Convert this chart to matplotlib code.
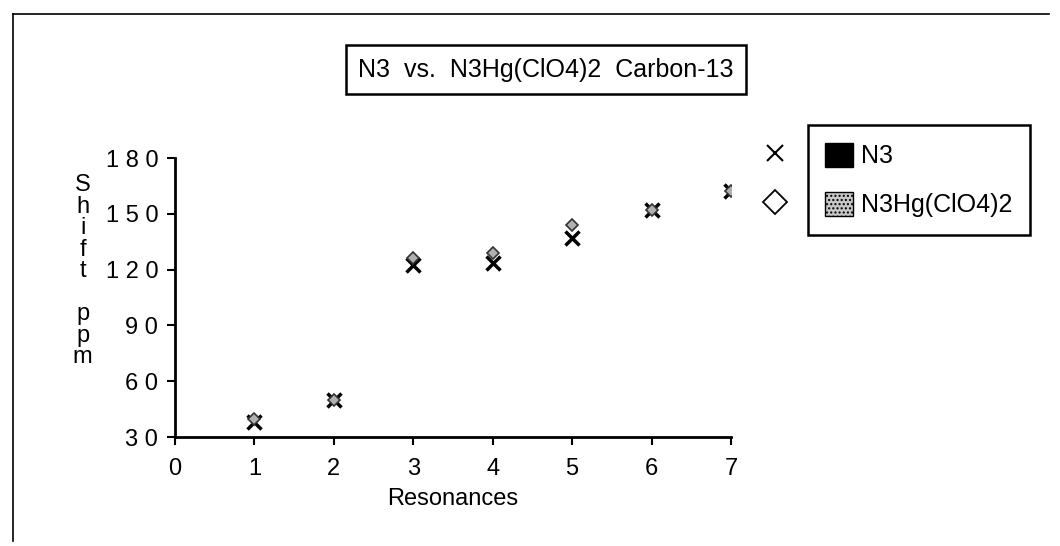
import matplotlib.pyplot as plt
from matplotlib.patches import Patch
from matplotlib.lines import Line2D

# chart data
resonances = [1, 2, 3, 4, 5, 6, 7]
n3_shift = [38, 50, 122.5, 123.5, 137, 152, 162]
n3hg_shift = [39.5, 50, 126.5, 129, 144, 152, 162]
series_names = ['N3', 'N3Hg(ClO4)2']
title = 'N3  vs.  N3Hg(ClO4)2  Carbon-13'
y_ticks = [30, 60, 90, 120, 150, 180]
x_ticks = [0, 1, 2, 3, 4, 5, 6, 7]

plt.rcParams['font.family'] = ['Liberation Sans', 'DejaVu Sans']
fs = 17

fig = plt.figure(figsize=(10.6, 5.46), dpi=100)
ax = fig.add_axes([0.165, 0.1996, 0.5246, 0.511])

ax.plot(resonances, n3_shift, linestyle='none', marker='x', color='black',
        markersize=10, markeredgewidth=2.5)
ax.plot(resonances, n3hg_shift, linestyle='none', marker='D', markerfacecolor='#b0b0b0',
        markeredgecolor='#333333', markersize=6, markeredgewidth=1.2)

ax.set_xlim(0, 7)
ax.set_ylim(30, 180)
ax.set_xticks(x_ticks)
ax.set_yticks(y_ticks)
ax.set_yticklabels([' '.join(str(v)) for v in y_ticks])
ax.tick_params(axis='both', direction='out', length=6, width=1.5, labelsize=fs)
ax.tick_params(axis='x', pad=9)
ax.tick_params(axis='y', pad=6)
for s in ['top', 'right']:
    ax.spines[s].set_visible(False)
for s in ['left', 'bottom']:
    ax.spines[s].set_linewidth(2)

ax.set_xlabel('Resonances', fontsize=fs, labelpad=6)
fig.text(0.078, 0.503, 'S\nh\ni\nf\nt\n\np\np\nm', fontsize=fs, ha='center', va='center',
         linespacing=0.97)

# title in a box
fig.text(0.515, 0.872, title, fontsize=18, ha='center', va='center',
         bbox=dict(boxstyle='square,pad=0.5', facecolor='white', edgecolor='black', linewidth=1.8))

# legend with filled swatches
handles = [Patch(facecolor='black', edgecolor='black'),
           Patch(facecolor='#c8c8c8', edgecolor='black', hatch='....')]
leg = fig.legend(handles, series_names, loc='upper left', bbox_to_anchor=(0.762, 0.771),
                 borderaxespad=0, fontsize=18, handlelength=1.1, handleheight=1.1,
                 handletextpad=0.35, labelspacing=0.95, borderpad=0.7, fancybox=False,
                 framealpha=1)
leg.get_frame().set_edgecolor('black')
leg.get_frame().set_linewidth(1.8)

# marker symbols sitting just left of the legend box
mk = [Line2D([], [], linestyle='none', marker='x', color='black', markersize=12, markeredgewidth=1.5),
      Line2D([], [], linestyle='none', marker='D', markerfacecolor='white',
             markeredgecolor='black', markersize=12, markeredgewidth=1.3)]
fig.legend(mk, ['', ''], loc='upper left', bbox_to_anchor=(0.702, 0.771), borderaxespad=0,
           fontsize=18, handlelength=1.1, handleheight=1.1, labelspacing=0.95, borderpad=0.7,
           frameon=False, handletextpad=0)

# outer frame of the scan
fig.add_artist(Line2D([0.012, 0.012], [0.01, 0.975], color='black', linewidth=1.2))
fig.add_artist(Line2D([0.012, 0.99], [0.975, 0.975], color='black', linewidth=1.2))

fig.savefig('out.png', dpi=100)
